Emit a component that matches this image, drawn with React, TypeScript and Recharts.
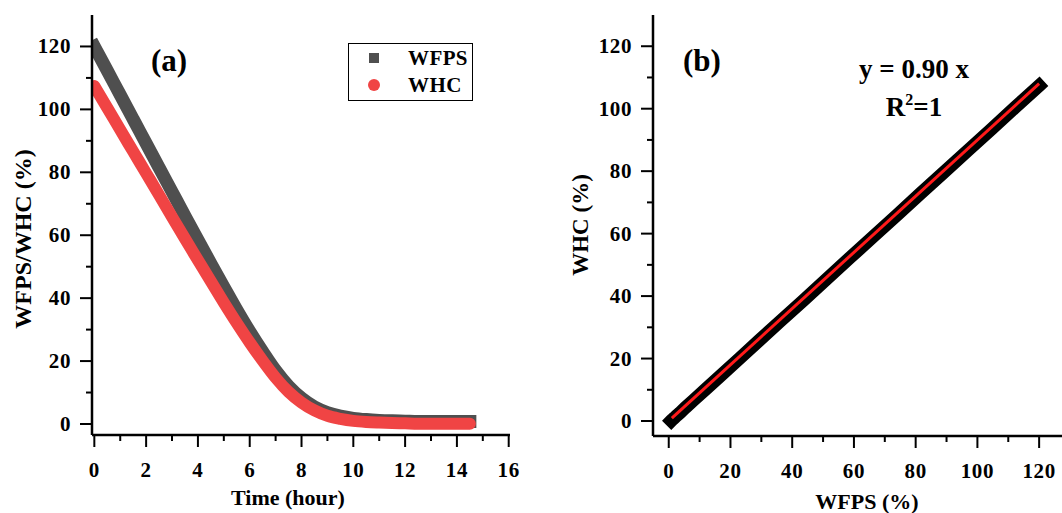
import React from "react";
import { LineChart, Line, XAxis, YAxis, Legend } from "recharts";

// drying curve, every half hour
const TIME = [
  0, 0.5, 1, 1.5, 2, 2.5, 3, 3.5, 4, 4.5, 5, 5.5, 6, 6.5, 7, 7.5, 8, 8.5, 9, 9.5,
  10, 10.5, 11, 11.5, 12, 12.5, 13, 13.5, 14, 14.5,
];
const WFPS = [
  120, 112.3, 104.6, 96.9, 89.2, 81.5, 73.8, 66.1, 58.5, 51, 43.6, 36.3, 29.4, 23, 17,
  12, 8.2, 5.4, 3.6, 2.5, 1.8, 1.4, 1.15, 1.0, 0.9, 0.8, 0.8, 0.8, 0.8, 0.8,
];
const WHC = [
  107.4, 100.5, 93.5, 86.6, 79.7, 72.8, 65.8, 58.9, 52.1, 45.3, 38.6, 32.1, 25.9, 20.1,
  14.7, 10.2, 6.8, 4.3, 2.6, 1.65, 1.0, 0.65, 0.45, 0.3, 0.2, 0.1, 0.1, 0.1, 0.1, 0.1,
];

// linear fit shown in panel (b): y = 0.90 x over the measured WFPS range
const FIT_SLOPE = 0.9;
const FIT_X = [1, 120];

const TIME_TICKS = [0, 1, 2, 3, 4, 5, 6, 7, 8, 9, 10, 11, 12, 13, 14, 15, 16];
const PCT_TICKS = [0, 10, 20, 30, 40, 50, 60, 70, 80, 90, 100, 110, 120];

const FONT = '"Liberation Serif", "Times New Roman", serif';
const DARK = "#4f4f4f";
const RED = "#f04444";
const AXIS = { stroke: "#000", strokeWidth: 2.5 };

const seriesA = TIME.map((t, i) => ({ t, wfps: WFPS[i], whc: WHC[i] }));
const pointsB = WFPS.map((x, i) => ({ x, y: WHC[i] }));
const fitB = FIT_X.map((x) => ({ x, y: FIT_SLOPE * x }));

type Side = "bottom" | "left" | "top" | "right";

// draws major/minor tick marks by hand so minor ticks can be shorter
function makeTick(side: Side, majorStep: number) {
  return (props: any) => {
    const { x, y, payload } = props;
    const v = payload.value;
    const major = Math.abs(v % majorStep) < 1e-6;
    const len = major ? 12 : 6;
    const txt = {
      fontFamily: FONT,
      fontWeight: "bold",
      fontSize: 21,
      letterSpacing: 0.6,
      fill: "#000",
    } as const;
    if (side === "bottom") {
      return (
        <g>
          <line x1={x} y1={y} x2={x} y2={y + len} stroke="#000" strokeWidth={2} />
          {major && (
            <text x={x} y={y + 42} textAnchor="middle" {...txt}>
              {v}
            </text>
          )}
        </g>
      );
    }
    if (side === "left") {
      return (
        <g>
          <line x1={x} y1={y} x2={x - len} y2={y} stroke="#000" strokeWidth={2} />
          {major && (
            <text x={x - 21} y={y + 7} textAnchor="end" {...txt}>
              {v}
            </text>
          )}
        </g>
      );
    }
    if (side === "top") {
      return <line x1={x} y1={y} x2={x} y2={y + len} stroke="#000" strokeWidth={2} />;
    }
    return <line x1={x} y1={y} x2={x - len} y2={y} stroke="#000" strokeWidth={2} />;
  };
}

const renderLegend = (props: any) => {
  const payload = props.payload || [];
  return (
    <svg width={125} height={58} style={{ display: "block" }}>
      <rect x={0.5} y={0.5} width={124} height={57} fill="#fff" stroke="#000" strokeWidth={1} />
      {payload.map((entry: any, i: number) => {
        const cy = 15 + i * 27;
        return (
          <g key={entry.value}>
            {i === 0 ? (
              <rect x={21} y={cy - 5} width={10} height={10} fill={entry.color} />
            ) : (
              <circle cx={26} cy={cy} r={6} fill={entry.color} />
            )}
            <text
              x={60}
              y={cy + 7}
              fontFamily={FONT}
              fontWeight="bold"
              fontSize={21}
              letterSpacing={0.4}
              fill="#000"
            >
              {entry.value}
            </text>
          </g>
        );
      })}
    </svg>
  );
};

function PanelA() {
  const xDomain: [number, number] = [-0.09, 16.05];
  const yDomain: [number, number] = [-3.5, 130];
  return (
    <LineChart
      width={560}
      height={513}
      data={seriesA}
      margin={{ top: 15, right: 50, bottom: 0, left: 0 }}
    >
      <XAxis
        xAxisId="b"
        dataKey="t"
        type="number"
        domain={xDomain}
        allowDataOverflow
        ticks={TIME_TICKS}
        interval={0}
        height={78}
        tickSize={0}
        tickMargin={0}
        tickLine={false}
        axisLine={AXIS}
        tick={makeTick("bottom", 2)}
      />
      <XAxis
        xAxisId="t"
        orientation="top"
        dataKey="t"
        type="number"
        domain={xDomain}
        allowDataOverflow
        ticks={TIME_TICKS}
        interval={0}
        height={0}
        tickSize={0}
        tickMargin={0}
        tickLine={false}
        axisLine={AXIS}
        tick={makeTick("top", 2)}
      />
      <YAxis
        yAxisId="l"
        type="number"
        domain={yDomain}
        allowDataOverflow
        ticks={PCT_TICKS}
        interval={0}
        width={92}
        tickSize={0}
        tickMargin={0}
        tickLine={false}
        axisLine={AXIS}
        tick={makeTick("left", 20)}
      />
      <YAxis
        yAxisId="r"
        orientation="right"
        type="number"
        domain={yDomain}
        allowDataOverflow
        ticks={PCT_TICKS}
        interval={0}
        width={0}
        tickSize={0}
        tickMargin={0}
        tickLine={false}
        axisLine={AXIS}
        tick={makeTick("right", 20)}
      />
      <Legend
        layout="horizontal"
        verticalAlign="middle"
        align="center"
        content={renderLegend}
        wrapperStyle={{ left: 348, top: 43, width: 125, height: 58 }}
      />
      <Line
        xAxisId="b"
        yAxisId="l"
        dataKey="wfps"
        name="WFPS"
        type="monotone"
        stroke={DARK}
        strokeWidth={13}
        strokeLinecap="square"
        dot={false}
        isAnimationActive={false}
      />
      <Line
        xAxisId="b"
        yAxisId="l"
        dataKey="whc"
        name="WHC"
        type="monotone"
        stroke={RED}
        strokeWidth={12}
        strokeLinecap="round"
        dot={false}
        isAnimationActive={false}
      />
    </LineChart>
  );
}

function PanelB() {
  const xDomain: [number, number] = [-5.1, 130];
  const yDomain: [number, number] = [-4.8, 130];
  return (
    <LineChart width={520} height={513} margin={{ top: 15, right: 10, bottom: 0, left: 0 }}>
      <XAxis
        xAxisId="b"
        dataKey="x"
        type="number"
        domain={xDomain}
        allowDataOverflow
        ticks={PCT_TICKS}
        interval={0}
        height={77}
        tickSize={0}
        tickMargin={0}
        tickLine={false}
        axisLine={AXIS}
        tick={makeTick("bottom", 20)}
      />
      <XAxis
        xAxisId="t"
        orientation="top"
        dataKey="x"
        type="number"
        domain={xDomain}
        allowDataOverflow
        ticks={PCT_TICKS}
        interval={0}
        height={0}
        tickSize={0}
        tickMargin={0}
        tickLine={false}
        axisLine={AXIS}
        tick={makeTick("top", 20)}
      />
      <YAxis
        yAxisId="l"
        type="number"
        domain={yDomain}
        allowDataOverflow
        ticks={PCT_TICKS}
        interval={0}
        width={93}
        tickSize={0}
        tickMargin={0}
        tickLine={false}
        axisLine={AXIS}
        tick={makeTick("left", 20)}
      />
      <YAxis
        yAxisId="r"
        orientation="right"
        type="number"
        domain={yDomain}
        allowDataOverflow
        ticks={PCT_TICKS}
        interval={0}
        width={0}
        tickSize={0}
        tickMargin={0}
        tickLine={false}
        axisLine={AXIS}
        tick={makeTick("right", 20)}
      />
      <Line
        xAxisId="b"
        yAxisId="l"
        data={pointsB}
        dataKey="y"
        name="data"
        type="linear"
        stroke="#000"
        strokeWidth={13}
        strokeLinecap="square"
        dot={false}
        isAnimationActive={false}
      />
      <Line
        xAxisId="b"
        yAxisId="l"
        data={fitB}
        dataKey="y"
        name="fit"
        type="linear"
        stroke="#ff1a1a"
        strokeWidth={3}
        dot={false}
        isAnimationActive={false}
      />
    </LineChart>
  );
}

const titleStyle = { fontFamily: FONT, fontWeight: "bold", fill: "#000" } as const;

export default function App() {
  return (
    <div
      style={{
        position: "absolute",
        left: 0,
        top: 0,
        width: 1062,
        height: 513,
        overflow: "hidden",
        background: "#fff",
      }}
    >
      <div style={{ position: "absolute", left: 0, top: 0 }}>
        <PanelA />
      </div>
      <div style={{ position: "absolute", left: 560, top: 0 }}>
        <PanelB />
      </div>
      <svg
        width={1062}
        height={513}
        style={{ position: "absolute", left: 0, top: 0, pointerEvents: "none" }}
      >
        <text x={288} y={505} textAnchor="middle" fontSize={22} {...titleStyle}>
          Time (hour)
        </text>
        <text transform="translate(31,239) rotate(-90)" textAnchor="middle" fontSize={24} {...titleStyle}>
          WFPS/WHC (%)
        </text>
        <text x={867} y={509} textAnchor="middle" fontSize={22} {...titleStyle}>
          WFPS (%)
        </text>
        <text transform="translate(588,225) rotate(-90)" textAnchor="middle" fontSize={23} {...titleStyle}>
          WHC (%)
        </text>
        <text x={169} y={71} textAnchor="middle" fontSize={31} {...titleStyle}>
          (a)
        </text>
        <text x={702} y={71} textAnchor="middle" fontSize={31} {...titleStyle}>
          (b)
        </text>
        <text x={914} y={78} textAnchor="middle" fontSize={27} {...titleStyle}>
          y = 0.90 x
        </text>
        <text x={914} y={116} textAnchor="middle" fontSize={27} {...titleStyle}>
          R<tspan dy={-11} fontSize={16}>2</tspan>
          <tspan dy={11}>=1</tspan>
        </text>
      </svg>
    </div>
  );
}
